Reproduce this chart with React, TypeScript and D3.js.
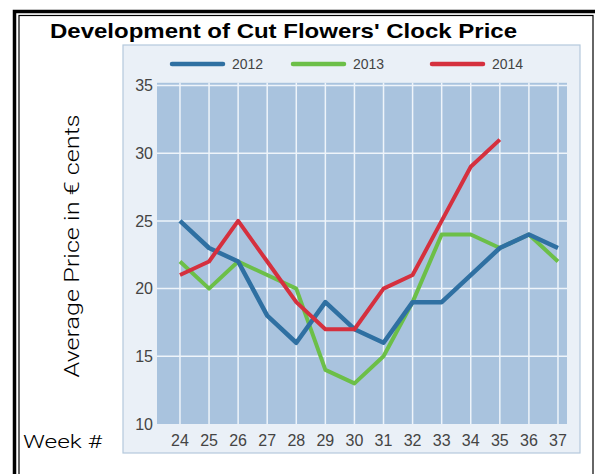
import React, { useRef, useEffect } from 'react';
import * as d3 from 'd3';

const weeks = [24, 25, 26, 27, 28, 29, 30, 31, 32, 33, 34, 35, 36, 37];
const yTicks = [10, 15, 20, 25, 30, 35];

const prices2012 = [25, 23, 22, 18, 16, 19, 17, 16, 19, 19, 21, 23, 24, 23];
const prices2013 = [22, 20, 22, 21, 20, 14, 13, 15, 19, 24, 24, 23, 24, 22];
const prices2014 = [21, 22, 25, 22, 19, 17, 17, 20, 21, 25, 29, 31];

const seriesNames = ['2012', '2013', '2014'];
const seriesColors = ['#2f70a2', '#6cbf48', '#d5303e'];

const App = () => {
    const svgRef = useRef<SVGSVGElement>(null);

    useEffect(() => {
        const svg = d3.select(svgRef.current);
        svg.selectAll("*").remove();

        const font = "'Liberation Sans', Arial, sans-serif";
        const lightFont = "Roboto, 'Open Sans', sans-serif";

        // double frame
        svg.append("rect")
            .attr("x", 14.5).attr("y", 11.5)
            .attr("width", 600).attr("height", 480)
            .attr("fill", "white").attr("stroke", "black").attr("stroke-width", 3.5);
        svg.append("rect")
            .attr("x", 19).attr("y", 15.5)
            .attr("width", 574).attr("height", 480)
            .attr("fill", "none").attr("stroke", "black").attr("stroke-width", 1.2);

        // title
        svg.append("text")
            .attr("x", 50).attr("y", 38)
            .attr("font-family", font).attr("font-weight", "bold")
            .attr("font-size", 21)
            .attr("textLength", 467).attr("lengthAdjust", "spacingAndGlyphs")
            .text("Development of Cut Flowers' Clock Price");

        // light chart panel
        svg.append("rect")
            .attr("x", 123).attr("y", 45)
            .attr("width", 457).attr("height", 408)
            .attr("fill", "#eaf0f7").attr("stroke", "#b4c9dc").attr("stroke-width", 1.2);

        const x = d3.scaleLinear().domain([23.21, 37.31]).range([157, 567]);
        const y = d3.scaleLinear().domain([10, 35]).range([424, 85.5]);

        const chart = svg.append("g");

        // plot area
        chart.append("rect")
            .attr("x", x(23.21)).attr("y", y(35.2))
            .attr("width", x(37.31) - x(23.21)).attr("height", y(10) - y(35.2))
            .attr("fill", "#a9c3de");

        // grid
        chart.selectAll(".vgrid")
            .data(weeks)
            .join("line")
            .attr("x1", d => x(d)).attr("x2", d => x(d))
            .attr("y1", y(35.2)).attr("y2", y(10))
            .attr("stroke", "#eef4fa").attr("stroke-width", 1.5);
        chart.selectAll(".hgrid")
            .data(yTicks.slice(1))
            .join("line")
            .attr("x1", x(23.21)).attr("x2", x(37.31))
            .attr("y1", d => y(d)).attr("y2", d => y(d))
            .attr("stroke", "#eef4fa").attr("stroke-width", 1.5);

        // tick labels
        chart.selectAll(".ylab")
            .data(yTicks)
            .join("text")
            .attr("x", 153).attr("y", d => y(d))
            .attr("dy", "0.35em")
            .attr("text-anchor", "end")
            .attr("font-family", font).attr("font-size", 16)
            .attr("fill", "#444")
            .text(d => d);
        chart.selectAll(".xlab")
            .data(weeks)
            .join("text")
            .attr("x", d => x(d)).attr("y", 440)
            .attr("dy", "0.35em")
            .attr("text-anchor", "middle")
            .attr("font-family", font).attr("font-size", 16)
            .attr("fill", "#444")
            .text(d => d);

        // lines
        const series = [prices2012, prices2013, prices2014];
        const line = d3.line<number>()
            .x((d, i) => x(weeks[i]))
            .y(d => y(d));
        [1, 0, 2].forEach(i => {
            chart.append("path")
                .datum(series[i])
                .attr("fill", "none")
                .attr("stroke", seriesColors[i])
                .attr("stroke-width", i === 0 ? 4.5 : 4)
                .attr("stroke-linejoin", "round")
                .attr("d", line);
        });

        // legend
        const legendX = [172, 293, 432];
        seriesNames.forEach((name, i) => {
            svg.append("line")
                .attr("x1", legendX[i]).attr("x2", legendX[i] + 51)
                .attr("y1", 64).attr("y2", 64)
                .attr("stroke", seriesColors[i]).attr("stroke-width", 4.5)
                .attr("stroke-linecap", "round");
            svg.append("text")
                .attr("x", legendX[i] + 60).attr("y", 64)
                .attr("dy", "0.35em")
                .attr("font-family", font).attr("font-size", 14)
                .attr("fill", "#444")
                .text(name);
        });

        // axis titles
        svg.append("text")
            .attr("transform", "translate(79,246) rotate(-90)")
            .attr("text-anchor", "middle")
            .attr("font-family", lightFont).attr("font-weight", 300).attr("font-size", 20)
            .attr("textLength", 263).attr("lengthAdjust", "spacingAndGlyphs")
            .text("Average Price in € cents");
        svg.append("text")
            .attr("x", 23).attr("y", 448)
            .attr("font-family", lightFont).attr("font-weight", 300).attr("font-size", 19)
            .attr("textLength", 79).attr("lengthAdjust", "spacingAndGlyphs")
            .text("Week #");
    }, []);

    return (
        <svg ref={svgRef} width={595} height={474}
            style={{ position: 'absolute', left: 0, top: 0 }}></svg>
    );
};

export default App;
